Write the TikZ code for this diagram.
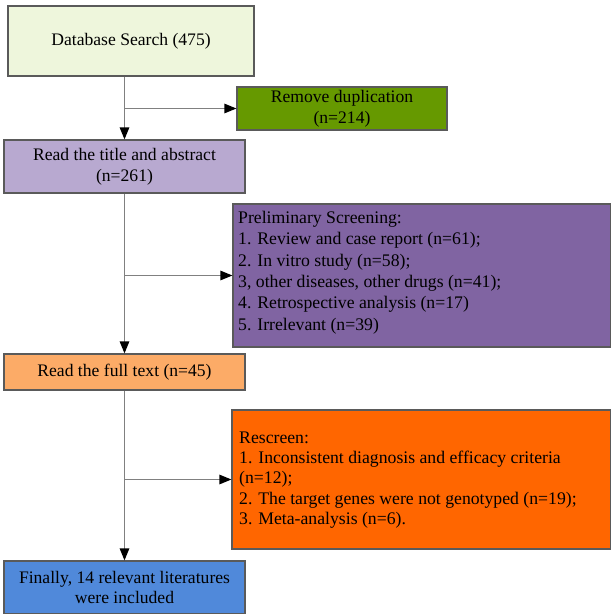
\documentclass[tikz,border=0pt]{standalone}
\usepackage{fontspec}
\setmainfont{Liberation Serif}
\usetikzlibrary{arrows.meta}
\definecolor{cA}{HTML}{EEF6DC}
\definecolor{cB}{HTML}{669900}
\definecolor{cC}{HTML}{B8A9D0}
\definecolor{cD}{HTML}{8064A2}
\definecolor{cE}{HTML}{FCAB67}
\definecolor{cF}{HTML}{FF6600}
\definecolor{cG}{HTML}{5089DA}
\definecolor{edge}{HTML}{5A5A5A}
\definecolor{wire}{HTML}{808080}
\begin{document}
\begin{tikzpicture}[x=1pt,y=1pt,
  box/.style={draw=edge,line width=1.2pt,inner sep=0pt,
    font=\fontsize{17.6}{20.8}\selectfont,align=center},
  link/.style={draw=wire,line width=1.2pt,-{Triangle[length=12pt,width=9.5pt,color=black]}}]
\useasboundingbox (0,0) rectangle (611,-614);
\node[box,fill=cA,minimum width=246,minimum height=70] (b1) at (131,-41) {Database Search (475)};
\node[box,fill=cB,minimum width=210,minimum height=43] (b2) at (342,-108.5) {Remove duplication\\(n=214)};
\node[box,fill=cC,minimum width=241,minimum height=53] (b3) at (124.5,-166.5) {Read the title and abstract\\(n=261)};
\node[box,fill=cD,minimum width=378,minimum height=143] (b4) at (422,-275.5) {};
\node[anchor=west,font=\fontsize{17.7}{21.3}\selectfont,align=left,inner sep=0pt] (t4) at (238,-272.5) {Preliminary Screening:\\1. Review and case report (n=61);\\2. In vitro study (n=58);\\3, other diseases, other drugs (n=41);\\4. Retrospective analysis (n=17)\\5. Irrelevant (n=39)};
\node[box,fill=cE,minimum width=241,minimum height=36] (b5) at (124.5,-372) {Read the full text (n=45)};
\node[box,fill=cF,minimum width=379,minimum height=139] (b6) at (421.5,-479.5) {};
\node[anchor=west,font=\fontsize{17.7}{20.3}\selectfont,align=left,inner sep=0pt] (t6) at (239,-480) {Rescreen:\\1. Inconsistent diagnosis and efficacy criteria\\(n=12);\\2. The target genes were not genotyped (n=19);\\3. Meta-analysis (n=6).};
\node[box,fill=cG,minimum width=241,minimum height=53] (b7) at (124.5,-587.5) {Finally, 14 relevant literatures\\were included};
\draw[link] (b1.south -| b3.north) -- (b3.north);
\draw[link] (b3.north |- b2.west) -- (b2.west);
\draw[link] (b3.south) -- (b5.north);
\draw[link] (b3.south |- b4.west) -- (b4.west);
\draw[link] (b5.south) -- (b7.north);
\draw[link] (b5.south |- b6.west) -- (b6.west);
\end{tikzpicture}
\end{document}
